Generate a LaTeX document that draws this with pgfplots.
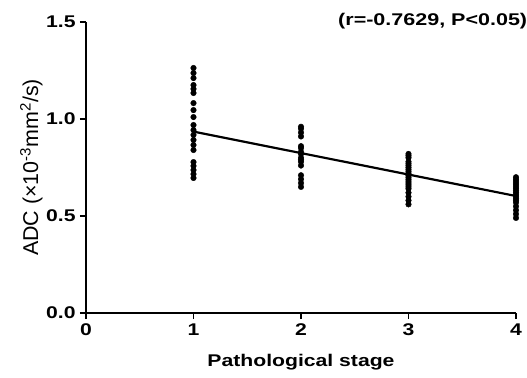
\documentclass[border=0pt]{standalone}
\usepackage{pgfplots}
\pgfplotsset{compat=1.18}
\usepackage{fontspec}
\setmainfont{Liberation Sans}
\begin{document}
\begin{tikzpicture}
\useasboundingbox (-86bp,-65bp) rectangle (441bp,313bp);
\begin{axis}[
  at={(0,0)}, anchor=origin,
  scale only axis, width=430bp, height=291bp,
  xmin=0, xmax=4, ymin=0, ymax=1.5,
  axis lines*=left,
  axis line style={line width=2.3pt},
  every tick/.style={line width=2pt, black},
  tick align=outside, major tick length=6bp,
  xtick={0,1,2,3,4}, ytick={0,0.5,1,1.5},
  /pgf/number format/assume math mode=true,
  yticklabel style={/pgf/number format/.cd, fixed, fixed zerofill, precision=1},
  tick label style={font=\fontsize{17}{17}\selectfont\bfseries, xscale=1.25},
  xticklabel style={yshift=-1bp},
  xlabel={Pathological stage},
  xlabel style={font=\fontsize{17}{17}\selectfont\bfseries, xscale=1.25, yshift=-12bp},
  ylabel={ADC (×10\textsuperscript{-3}mm\textsuperscript{2}/s)},
  ylabel style={font=\fontsize{21.5}{21.5}\selectfont, yshift=-4bp},
  clip=false,
]
\addplot[only marks, mark=*, mark size=2.8bp, black] coordinates {
(1,1.263)(1,1.237)(1,1.211)(1,1.175)(1,1.155)(1,1.134)(1,1.082)(1,1.046)(1,1.010)(1,0.969)
(1,0.943)(1,0.918)(1,0.892)(1,0.866)(1,0.840)(1,0.778)(1,0.758)(1,0.737)(1,0.716)(1,0.696)
(2,0.96)(2,0.95)(2,0.93)(2,0.91)(2,0.86)(2,0.85)(2,0.83)(2,0.82)(2,0.80)(2,0.79)(2,0.78)(2,0.76)
(2,0.71)(2,0.69)(2,0.67)(2,0.65)
(3,0.82)(3,0.81)(3,0.80)(3,0.78)(3,0.77)(3,0.76)(3,0.75)(3,0.74)(3,0.73)(3,0.72)(3,0.71)
(3,0.70)(3,0.69)(3,0.68)(3,0.67)(3,0.66)(3,0.65)(3,0.64)(3,0.62)(3,0.60)(3,0.58)(3,0.56)
(4,0.70)(4,0.69)(4,0.68)(4,0.67)(4,0.66)(4,0.65)(4,0.64)(4,0.63)(4,0.62)(4,0.61)(4,0.60)
(4,0.59)(4,0.58)(4,0.57)(4,0.55)(4,0.53)(4,0.51)(4,0.49)
};
\addplot[black, line width=2.2pt] coordinates {(1,0.935)(4,0.603)};
\node[anchor=east, font=\fontsize{17}{17}\selectfont\bfseries, xscale=1.27, inner sep=0pt] at (rel axis cs:1,1) [xshift=9bp, yshift=1bp] {(r=-0.7629, P<0.05)};
\end{axis}
\end{tikzpicture}
\end{document}
